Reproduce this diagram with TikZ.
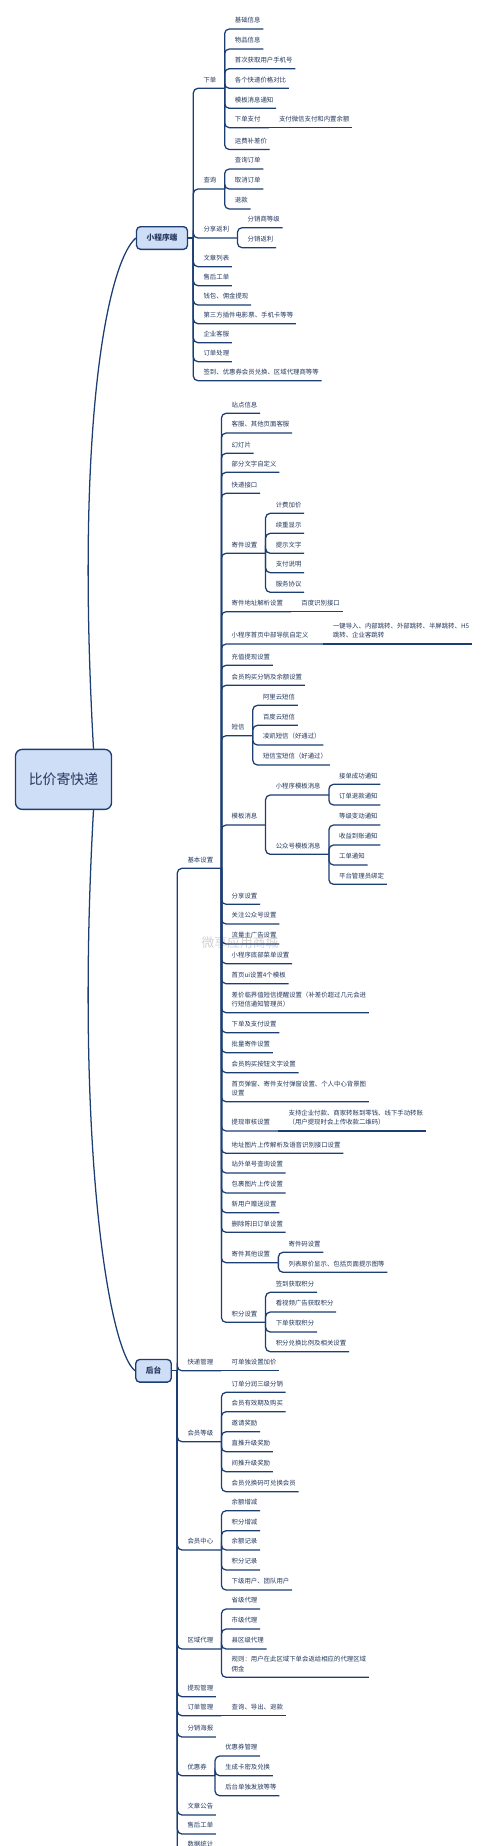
\documentclass[tikz,border=0pt]{standalone}
\usepackage{fontspec}
\setmainfont{Noto Sans CJK SC}
\definecolor{lnk}{RGB}{28,62,115}
\definecolor{txt}{RGB}{35,55,92}
\definecolor{boxfill}{RGB}{206,222,246}

\begin{document}
\begin{tikzpicture}[x=0.75pt,y=0.75pt,yscale=-1,xscale=1,
  topic/.style={font=\fontsize{4.8}{7.1}\selectfont, text=txt, anchor=south west,
    inner xsep=0pt, inner ysep=4.4pt, text depth=0pt,
    execute at begin node=\hspace*{7.5pt}, execute at end node=\hspace*{1.9pt}},
  hub/.style={topic, execute at end node=\hspace*{4.1pt}},
  link/.style={draw=lnk, line width=0.95pt, rounded corners=3.5pt},
  box/.style={draw=lnk, line width=1pt, fill=boxfill, rounded corners=3pt, text=txt,
    font=\fontsize{5.8}{7}\selectfont\bfseries, inner xsep=7.5pt, minimum height=17pt},
  rootbox/.style={box, rounded corners=5pt, font=\fontsize{10.4}{12}\selectfont,
    minimum width=72pt, minimum height=45pt}]
\useasboundingbox (0,0) rectangle (480,1846);

% watermark
\node (wm) [text=gray!35, font=\fontsize{9.6}{10}\selectfont] at (240,943) {微享应用商城};

% Main boxes
\node (root) [rootbox] at (63.5,779.4) {比价寄快递};
\node (mini) [box] at (162,238) {小程序端};
\coordinate (mj) at (193.3,238);
\node (back) [box] at (153.5,1370.8) {后台};
\coordinate (bj) at (177.3,1370.8);

%% 小程序端
\node (xd) [hub] at (mj |- 0,88.3) {下单};
\node (cx) [hub] at (mj |- 0,189) {查询};
\node (fx) [hub] at (mj |- 0,238) {分享返利};
\node (wzlb) [topic] at (mj |- 0,266.7) {文章列表};
\node (shgd1) [topic] at (mj |- 0,285.7) {售后工单};
\node (qbtx) [topic] at (mj |- 0,305) {钱包、佣金提现};
\node (dsf) [topic] at (mj |- 0,323.7) {第三方插件电影票、手机卡等等};
\node (qykf) [topic] at (mj |- 0,342.7) {企业客服};
\node (ddcl) [topic] at (mj |- 0,361.7) {订单处理};
\node (qdyh) [topic] at (mj |- 0,380.7) {签到、优惠券会员兑换、区域代理商等等};

% 下单
\node (xd1) [topic] at (xd.south east |- 0,29) {基础信息};
\node (xd2) [topic] at (xd.south east |- 0,49) {物品信息};
\node (xd3) [topic] at (xd.south east |- 0,68.7) {首次获取用户手机号};
\node (xd4) [topic] at (xd.south east |- 0,88.3) {各个快递价格对比};
\node (xd5) [topic] at (xd.south east |- 0,108.3) {模板消息通知};
\node (xd6) [hub] at (xd.south east |- 0,127.7) {下单支付};
\node (xd7) [topic] at (xd.south east |- 0,149.5) {运费补差价};
\node (xd6a) [topic] at (xd6.south east) {支付微信支付和内置余额};
% 查询
\node (cx1) [topic] at (cx.south east |- 0,169) {查询订单};
\node (cx2) [topic] at (cx.south east |- 0,189) {取消订单};
\node (cx3) [topic] at (cx.south east |- 0,209) {退款};
% 分享返利
\node (fx1) [topic] at (fx.south east |- 0,227.7) {分销商等级};
\node (fx2) [topic] at (fx.south east |- 0,247.7) {分销返利};

%% 后台
\node (jb) [hub] at (bj |- 0,868.3) {基本设置};
\node (kd) [hub] at (bj) {快递管理};
\node (hydj) [hub] at (bj |- 0,1441.7) {会员等级};
\node (hyzx) [hub] at (bj |- 0,1550) {会员中心};
\node (qydl) [hub] at (bj |- 0,1649) {区域代理};
\node (txgl) [topic] at (bj |- 0,1696.7) {提现管理};
\node (ddgl) [hub] at (bj |- 0,1715.7) {订单管理};
\node (fxhb) [topic] at (bj |- 0,1737) {分销海报};
\node (yhq) [hub] at (bj |- 0,1775.7) {优惠券};
\node (wzgg) [topic] at (bj |- 0,1815) {文章公告};
\node (shgd) [topic] at (bj |- 0,1834) {售后工单};
\node (sjtj) [topic] at (bj |- 0,1853) {数据统计};

% 基本设置
\node (j1) [topic] at (jb.south east |- 0,413.3) {站点信息};
\node (j2) [topic] at (jb.south east |- 0,433) {客服、其他页面客服};
\node (j3) [topic] at (jb.south east |- 0,453.3) {幻灯片};
\node (j4) [topic] at (jb.south east |- 0,472.3) {部分文字自定义};
\node (j5) [topic] at (jb.south east |- 0,493.3) {快递接口};
\node (jjsz) [hub] at (jb.south east |- 0,553.3) {寄件设置};
\node (jjdz) [hub] at (jb.south east |- 0,611.7) {寄件地址解析设置};
\node (dhzdy) [hub, execute at end node=\hspace*{4.5pt}] at (jb.south east |- 0,644) {小程序首页中部导航自定义};
\node (j6) [topic] at (jb.south east |- 0,665.3) {充值提现设置};
\node (j7) [topic] at (jb.south east |- 0,685.3) {会员购买分销及余额设置};
\node (dx) [hub] at (jb.south east |- 0,735.7) {短信};
\node (mbxx) [hub] at (jb.south east |- 0,825) {模板消息};
\node (j8) [topic] at (jb.south east |- 0,904.3) {分享设置};
\node (j9) [topic] at (jb.south east |- 0,924) {关注公众号设置};
\node (j10) [topic] at (jb.south east |- 0,944) {流量主广告设置};
\node (j11) [topic] at (jb.south east |- 0,963.7) {小程序底部菜单设置};
\node (j12) [topic] at (jb.south east |- 0,983.7) {首页ui设置4个模板};
\node (j13) [topic] at (jb.south east |- 0,1012.7) {\begin{tabular}[b]{@{}l@{}}差价临界值短信提醒设置（补差价超过几元会进\\行短信通知管理员）\end{tabular}};
\node (j14) [topic] at (jb.south east |- 0,1032.7) {下单及支付设置};
\node (j15) [topic] at (jb.south east |- 0,1052.7) {批量寄件设置};
\node (j16) [topic] at (jb.south east |- 0,1072.7) {会员购买按钮文字设置};
\node (j17) [topic] at (jb.south east |- 0,1101.7) {\begin{tabular}[b]{@{}l@{}}首页弹窗、寄件支付弹窗设置、个人中心背景图\\设置\end{tabular}};
\node (txsh) [hub] at (jb.south east |- 0,1131) {提现审核设置};
\node (j18) [topic] at (jb.south east |- 0,1153.3) {地址图片上传解析及语音识别接口设置};
\node (j19) [topic] at (jb.south east |- 0,1173) {站外单号查询设置};
\node (j20) [topic] at (jb.south east |- 0,1193) {包裹图片上传设置};
\node (j21) [topic] at (jb.south east |- 0,1212.7) {新用户赠送设置};
\node (j22) [topic] at (jb.south east |- 0,1232.3) {删除陈旧订单设置};
\node (jjqt) [hub] at (jb.south east |- 0,1262.7) {寄件其他设置};
\node (jfsz) [hub] at (jb.south east |- 0,1322.3) {积分设置};

% 寄件设置
\node (js1) [topic] at (jjsz.south east |- 0,513.3) {计费加价};
\node (js2) [topic] at (jjsz.south east |- 0,533.3) {续重显示};
\node (js3) [topic] at (jjsz.south east |- 0,553.3) {提示文字};
\node (js4) [topic] at (jjsz.south east |- 0,572.7) {支付说明};
\node (js5) [topic] at (jjsz.south east |- 0,592.3) {服务协议};
\node (jjdz1) [topic] at (jjdz.south east) {百度识别接口};
\node (dhzdy1) [topic] at (dhzdy.south east) {\begin{tabular}[b]{@{}l@{}}一键导入、内部跳转、外部跳转、半屏跳转、H5\\跳转、企业客跳转\end{tabular}};
% 短信
\node (dx1) [topic] at (dx.south east |- 0,705.3) {阿里云短信};
\node (dx2) [topic] at (dx.south east |- 0,725.3) {百度云短信};
\node (dx3) [topic] at (dx.south east |- 0,745) {凌凯短信（好通过）};
\node (dx4) [topic] at (dx.south east |- 0,765) {短信宝短信（好通过）};
% 模板消息
\node (xcxmb) [hub] at (mbxx.south east |- 0,795) {小程序模板消息};
\node (gzhmb) [hub] at (mbxx.south east |- 0,854.3) {公众号模板消息};
\node (xm1) [topic] at (xcxmb.south east |- 0,784.3) {接单成功通知};
\node (xm2) [topic] at (xcxmb.south east |- 0,805) {订单退款通知};
\node (gm1) [topic] at (gzhmb.south east |- 0,825) {等级变动通知};
\node (gm2) [topic] at (gzhmb.south east |- 0,845) {收益到账通知};
\node (gm3) [topic] at (gzhmb.south east |- 0,865) {工单通知};
\node (gm4) [topic] at (gzhmb.south east |- 0,884.3) {平台管理员绑定};
\node (txsh1) [topic] at (txsh.south east) {\begin{tabular}[b]{@{}l@{}}支持企业付款、商家转账到零钱、线下手动转账\\（用户提现时会上传收款二维码）\end{tabular}};
% 寄件其他设置, 积分设置
\node (jq1) [topic] at (jjqt.south east |- 0,1252.3) {寄件码设置};
\node (jq2) [topic] at (jjqt.south east |- 0,1272.3) {列表原价显示、包括页面提示图等};
\node (jf1) [topic] at (jfsz.south east |- 0,1292.3) {签到获取积分};
\node (jf2) [topic] at (jfsz.south east |- 0,1312) {看视频广告获取积分};
\node (jf3) [topic] at (jfsz.south east |- 0,1332) {下单获取积分};
\node (jf4) [topic] at (jfsz.south east |- 0,1351.7) {积分兑换比例及相关设置};

% 快递管理 ... 优惠券
\node (kd1) [topic] at (kd.south east) {可单独设置加价};
\node (hd1) [topic] at (hydj.south east |- 0,1392.3) {订单分润三级分销};
\node (hd2) [topic] at (hydj.south east |- 0,1411.7) {会员有效期及购买};
\node (hd3) [topic] at (hydj.south east |- 0,1431.7) {邀请奖励};
\node (hd4) [topic] at (hydj.south east |- 0,1451.7) {直推升级奖励};
\node (hd5) [topic] at (hydj.south east |- 0,1471.7) {间推升级奖励};
\node (hd6) [topic] at (hydj.south east |- 0,1491.7) {会员兑换码可兑换会员};
\node (hz1) [topic] at (hyzx.south east |- 0,1510.7) {余额增减};
\node (hz2) [topic] at (hyzx.south east |- 0,1530.7) {积分增减};
\node (hz3) [topic] at (hyzx.south east |- 0,1550) {余额记录};
\node (hz4) [topic] at (hyzx.south east |- 0,1570) {积分记录};
\node (hz5) [topic] at (hyzx.south east |- 0,1590) {下级用户、团队用户};
\node (qd1) [topic] at (qydl.south east |- 0,1609) {省级代理};
\node (qd2) [topic] at (qydl.south east |- 0,1629) {市级代理};
\node (qd3) [topic] at (qydl.south east |- 0,1649) {县区级代理};
\node (qd4) [topic] at (qydl.south east |- 0,1677.3) {\begin{tabular}[b]{@{}l@{}}规则：用户在此区域下单会返给相应的代理区域\\佣金\end{tabular}};
\node (dg1) [topic] at (ddgl.south east) {查询、导出、退款};
\node (yh1) [topic] at (yhq.south east |- 0,1756) {优惠券管理};
\node (yh2) [topic] at (yhq.south east |- 0,1775.7) {生成卡密及兑换};
\node (yh3) [topic] at (yhq.south east |- 0,1795.7) {后台单独发放等等};

%Curves from the root
\draw [link] ([xshift=-14pt]root.north east) .. controls (75,420) and (108,262) .. (mini.west);
\draw [link] ([xshift=-14pt]root.south east) .. controls (75,1140) and (108,1350) .. (back.west);
\draw [link] (mini.east) -- (mj);
\draw [link] (back.east) -- (bj);

%Lines 小程序端
\draw [link] (mj) |- (xd.south east);
\draw [link] (mj) |- (cx.south east);
\draw [link] (mj) |- (fx.south east);
\draw [link] (mj) |- (wzlb.south east);
\draw [link] (mj) |- (shgd1.south east);
\draw [link] (mj) |- (qbtx.south east);
\draw [link] (mj) |- (dsf.south east);
\draw [link] (mj) |- (qykf.south east);
\draw [link] (mj) |- (ddcl.south east);
\draw [link] (mj) |- (qdyh.south east);
\draw [link] (xd.south east) |- (xd1.south east);
\draw [link] (xd.south east) |- (xd2.south east);
\draw [link] (xd.south east) |- (xd3.south east);
\draw [link] (xd.south east) |- (xd4.south east);
\draw [link] (xd.south east) |- (xd5.south east);
\draw [link] (xd.south east) |- (xd6.south east);
\draw [link] (xd.south east) |- (xd7.south east);
\draw [link] (xd6.south east) -- (xd6a.south east);
\draw [link] (cx.south east) |- (cx1.south east);
\draw [link] (cx.south east) |- (cx2.south east);
\draw [link] (cx.south east) |- (cx3.south east);
\draw [link] (fx.south east) |- (fx1.south east);
\draw [link] (fx.south east) |- (fx2.south east);

%Lines 后台
\draw [link] (bj) |- (jb.south east);
\draw [link] (bj) |- (kd.south east);
\draw [link] (bj) |- (hydj.south east);
\draw [link] (bj) |- (hyzx.south east);
\draw [link] (bj) |- (qydl.south east);
\draw [link] (bj) |- (txgl.south east);
\draw [link] (bj) |- (ddgl.south east);
\draw [link] (bj) |- (fxhb.south east);
\draw [link] (bj) |- (yhq.south east);
\draw [link] (bj) |- (wzgg.south east);
\draw [link] (bj) |- (shgd.south east);
\draw [link] (bj) |- (sjtj.south east);

%Lines 基本设置
\draw [link] (jb.south east) |- (j1.south east);
\draw [link] (jb.south east) |- (j2.south east);
\draw [link] (jb.south east) |- (j3.south east);
\draw [link] (jb.south east) |- (j4.south east);
\draw [link] (jb.south east) |- (j5.south east);
\draw [link] (jb.south east) |- (jjsz.south east);
\draw [link] (jb.south east) |- (jjdz.south east);
\draw [link] (jb.south east) |- (dhzdy.south east);
\draw [link] (jb.south east) |- (j6.south east);
\draw [link] (jb.south east) |- (j7.south east);
\draw [link] (jb.south east) |- (dx.south east);
\draw [link] (jb.south east) |- (mbxx.south east);
\draw [link] (jb.south east) |- (j8.south east);
\draw [link] (jb.south east) |- (j9.south east);
\draw [link] (jb.south east) |- (j10.south east);
\draw [link] (jb.south east) |- (j11.south east);
\draw [link] (jb.south east) |- (j12.south east);
\draw [link] (jb.south east) |- (j13.south east);
\draw [link] (jb.south east) |- (j14.south east);
\draw [link] (jb.south east) |- (j15.south east);
\draw [link] (jb.south east) |- (j16.south east);
\draw [link] (jb.south east) |- (j17.south east);
\draw [link] (jb.south east) |- (txsh.south east);
\draw [link] (jb.south east) |- (j18.south east);
\draw [link] (jb.south east) |- (j19.south east);
\draw [link] (jb.south east) |- (j20.south east);
\draw [link] (jb.south east) |- (j21.south east);
\draw [link] (jb.south east) |- (j22.south east);
\draw [link] (jb.south east) |- (jjqt.south east);
\draw [link] (jb.south east) |- (jfsz.south east);
\draw [link] (jjsz.south east) |- (js1.south east);
\draw [link] (jjsz.south east) |- (js2.south east);
\draw [link] (jjsz.south east) |- (js3.south east);
\draw [link] (jjsz.south east) |- (js4.south east);
\draw [link] (jjsz.south east) |- (js5.south east);
\draw [link] (jjdz.south east) -- (jjdz1.south east);
\draw [link] (dhzdy.south east) -- (dhzdy1.south east);
\draw [link] (dx.south east) |- (dx1.south east);
\draw [link] (dx.south east) |- (dx2.south east);
\draw [link] (dx.south east) |- (dx3.south east);
\draw [link] (dx.south east) |- (dx4.south east);
\draw [link] (mbxx.south east) |- (xcxmb.south east);
\draw [link] (mbxx.south east) |- (gzhmb.south east);
\draw [link] (xcxmb.south east) |- (xm1.south east);
\draw [link] (xcxmb.south east) |- (xm2.south east);
\draw [link] (gzhmb.south east) |- (gm1.south east);
\draw [link] (gzhmb.south east) |- (gm2.south east);
\draw [link] (gzhmb.south east) |- (gm3.south east);
\draw [link] (gzhmb.south east) |- (gm4.south east);
\draw [link] (txsh.south east) -- (txsh1.south east);
\draw [link] (jjqt.south east) |- (jq1.south east);
\draw [link] (jjqt.south east) |- (jq2.south east);
\draw [link] (jfsz.south east) |- (jf1.south east);
\draw [link] (jfsz.south east) |- (jf2.south east);
\draw [link] (jfsz.south east) |- (jf3.south east);
\draw [link] (jfsz.south east) |- (jf4.south east);

%Lines 快递管理 ... 优惠券
\draw [link] (kd.south east) -- (kd1.south east);
\draw [link] (hydj.south east) |- (hd1.south east);
\draw [link] (hydj.south east) |- (hd2.south east);
\draw [link] (hydj.south east) |- (hd3.south east);
\draw [link] (hydj.south east) |- (hd4.south east);
\draw [link] (hydj.south east) |- (hd5.south east);
\draw [link] (hydj.south east) |- (hd6.south east);
\draw [link] (hyzx.south east) |- (hz1.south east);
\draw [link] (hyzx.south east) |- (hz2.south east);
\draw [link] (hyzx.south east) |- (hz3.south east);
\draw [link] (hyzx.south east) |- (hz4.south east);
\draw [link] (hyzx.south east) |- (hz5.south east);
\draw [link] (qydl.south east) |- (qd1.south east);
\draw [link] (qydl.south east) |- (qd2.south east);
\draw [link] (qydl.south east) |- (qd3.south east);
\draw [link] (qydl.south east) |- (qd4.south east);
\draw [link] (ddgl.south east) -- (dg1.south east);
\draw [link] (yhq.south east) |- (yh1.south east);
\draw [link] (yhq.south east) |- (yh2.south east);
\draw [link] (yhq.south east) |- (yh3.south east);

\end{tikzpicture}
\end{document}
